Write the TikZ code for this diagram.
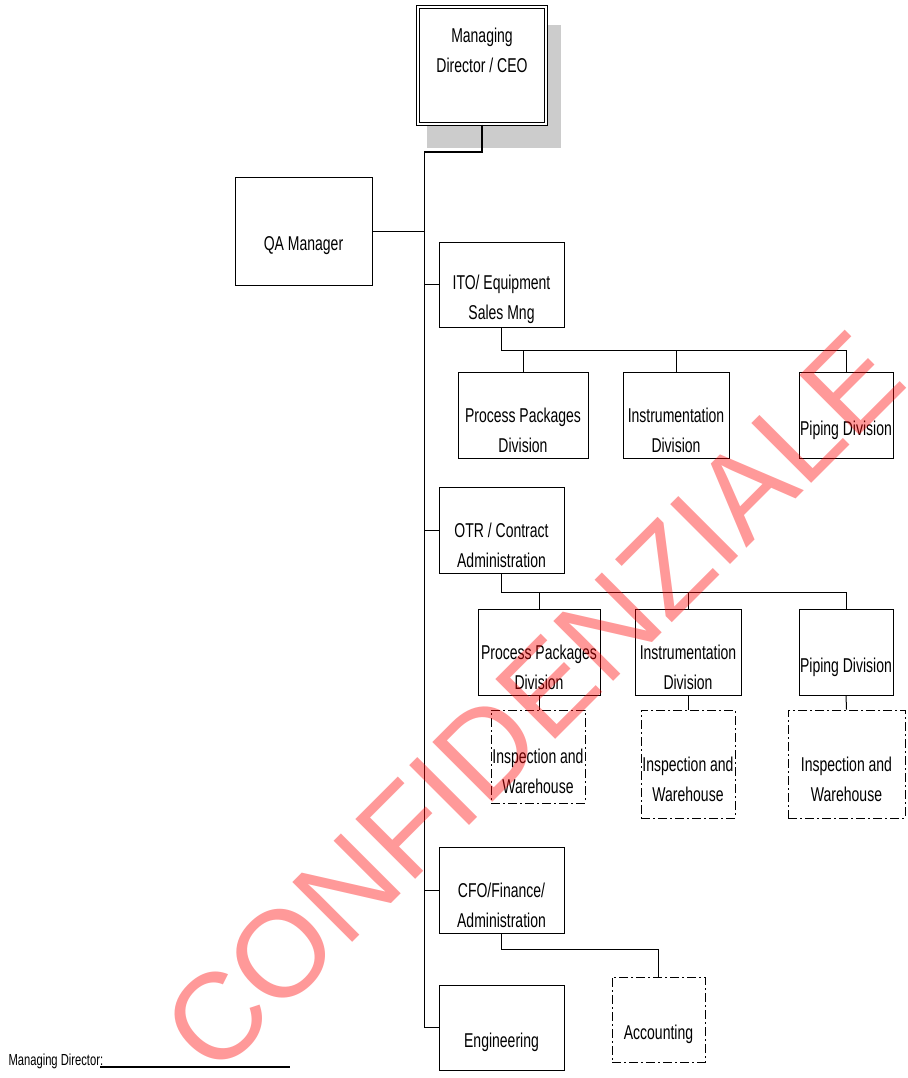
\documentclass[tikz,border=0pt]{standalone}
\usepackage{fontspec}
\setmainfont{Liberation Sans}[FakeStretch=0.7]
\newfontfamily\stampfont{Liberation Sans}
\usetikzlibrary{positioning}
\tikzset{unit/.style={draw, line width=0.8pt, fill=white, inner sep=0pt},
  spare/.style={unit, dash pattern=on 9pt off 3pt on 2pt off 3pt},
  txt/.style={align=center, yshift=-15pt},
  link/.style={line width=1pt},
  stamp/.style={font=\stampfont\fontsize{123}{123}\selectfont, text=red, text opacity=0.4}}
\begin{document}
\begin{tikzpicture}[x=1pt, y=-1pt, font=\fontsize{20}{30}\selectfont]
  \useasboundingbox (0,0) rectangle (907,1078);
  % top
  \fill[gray!40] (427,25) rectangle (561,148);
  \node[unit, double, double distance=2pt, minimum width=128.5pt, minimum height=117.5pt] (ceo) at (482,65.5) {};
  \node[txt, yshift=30pt] (ceotxt) at (ceo.center) {Managing\\Director / CEO};
  \node[unit, minimum width=137pt, minimum height=108pt, label={[txt]center:QA Manager}] (qa) at (303.5,231) {};
  % first level
  \node[unit, minimum width=125pt, minimum height=85pt, label={[txt]center:ITO/ Equipment\\Sales Mng}] (ito) at (501.5,284.5) {};
  \node[unit, minimum width=125pt, minimum height=86pt, label={[txt]center:OTR / Contract\\Administration}] (otr) at (501.5,530) {};
  \node[unit, minimum width=125pt, minimum height=86pt, label={[txt]center:CFO/Finance/\\Administration}] (cfo) at (501.5,890) {};
  \node[unit, minimum width=125pt, minimum height=85pt, label={[txt]center:Engineering}] (eng) at (501.5,1027.5) {};
  % ITO divisions
  \node[unit, minimum width=130pt, minimum height=86pt, label={[txt]center:Process Packages\\Division}] (pp1) at (523,415) {};
  \node[unit, minimum width=106pt, minimum height=86pt, label={[txt]center:Instrumentation\\Division}] (ins1) at (676,415) {};
  \node[unit, minimum width=94pt, minimum height=86pt, label={[txt]center:Piping Division}] (pip1) at (846,415) {};
  % OTR divisions
  \node[unit, minimum width=122pt, minimum height=86pt, label={[txt]center:Process Packages\\Division}] (pp2) at (539,652) {};
  \node[unit, minimum width=106pt, minimum height=86pt, label={[txt]center:Instrumentation\\Division}] (ins2) at (688,652) {};
  \node[unit, minimum width=94pt, minimum height=86pt, label={[txt]center:Piping Division}] (pip2) at (846,652) {};
  \node[spare, minimum width=94pt, minimum height=93pt, label={[txt]center:Inspection and\\Warehouse}] (iw1) at (538,756.5) {};
  \node[spare, minimum width=94pt, minimum height=108pt, label={[txt]center:Inspection and\\Warehouse}] (iw2) at (688,764) {};
  \node[spare, minimum width=117pt, minimum height=108pt, label={[txt]center:Inspection and\\Warehouse}] (iw3) at (846.5,764) {};
  % finance
  \node[spare, minimum width=93pt, minimum height=85pt, label={[txt]center:Accounting}] (acc) at (658.5,1019.5) {};
  % connectors
  \coordinate (trunk) at (424,152);
  \coordinate (bus1) at (0,350);
  \coordinate (bus2) at (0,592);
  \coordinate (bus4) at (0,949);
  \draw[link, line width=1.6pt] (ceo.south) |- (trunk);
  \draw[link] (trunk) |- (eng.west);
  \draw[link] (qa.east) -- (qa.east -| trunk);
  \draw[link] (ito.west) -- (ito.west -| trunk);
  \draw[link] (otr.west) -- (otr.west -| trunk);
  \draw[link] (cfo.west) -- (cfo.west -| trunk);
  \draw[link] (ito.south) -- (ito.south |- bus1) -| (pip1.north);
  \draw[link] (pp1.north |- bus1) -- (pp1.north);
  \draw[link] (ins1.north |- bus1) -- (ins1.north);
  \draw[link] (otr.south) -- (otr.south |- bus2) -| (pip2.north);
  \draw[link] (pp2.north |- bus2) -- (pp2.north);
  \draw[link] (ins2.north |- bus2) -- (ins2.north);
  \draw[link] (pp2.south) -- (pp2.south |- iw1.north);
  \draw[link] (ins2.south) -- (iw2.north);
  \draw[link] (pip2.south) -- (iw3.north);
  \draw[link] (cfo.south) -- (cfo.south |- bus4) -| (acc.north);
  % signature
  \node[anchor=base west, font=\fontsize{16}{18}\selectfont] (md) at (5,1065) {Managing Director:};
  \coordinate (sigbeg) at (100,1067);
  \coordinate (sigend) at (290,1067);
  \draw[line width=1.6pt] (sigbeg) -- (sigend);
  % watermark
  \node[stamp, rotate=45] (conf) at (533,702) {CONFIDENZIALE};
\end{tikzpicture}
\end{document}
